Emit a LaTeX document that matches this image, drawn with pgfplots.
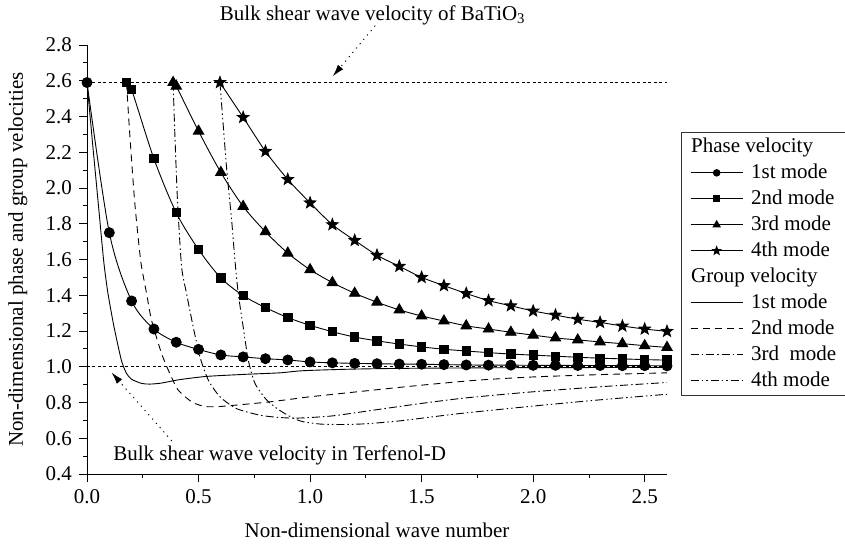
\documentclass[border=0pt]{standalone}
\usepackage{fontspec}
\setmainfont{Liberation Serif}
\usepackage{pgfplots}
\usepackage{pgfplotstable}
\pgfplotsset{compat=1.18}
\usetikzlibrary{arrows.meta}

\pgfdeclareplotmark{fstar}{%
 \pgfpathmoveto{\pgfpointpolar{90}{\pgfplotmarksize}}%
 \pgfpathlineto{\pgfpointpolar{126}{0.42\pgfplotmarksize}}%
 \pgfpathlineto{\pgfpointpolar{162}{\pgfplotmarksize}}%
 \pgfpathlineto{\pgfpointpolar{198}{0.42\pgfplotmarksize}}%
 \pgfpathlineto{\pgfpointpolar{234}{\pgfplotmarksize}}%
 \pgfpathlineto{\pgfpointpolar{270}{0.42\pgfplotmarksize}}%
 \pgfpathlineto{\pgfpointpolar{306}{\pgfplotmarksize}}%
 \pgfpathlineto{\pgfpointpolar{342}{0.42\pgfplotmarksize}}%
 \pgfpathlineto{\pgfpointpolar{18}{\pgfplotmarksize}}%
 \pgfpathlineto{\pgfpointpolar{54}{0.42\pgfplotmarksize}}%
 \pgfpathclose
 \pgfusepathqfillstroke
}

\pgfplotstableread{
x y
0 2.59
0.1 1.75
0.2 1.368
0.3 1.211
0.4 1.137
0.5 1.097
0.6 1.066
0.7 1.055
0.8 1.045
0.9 1.038
1.0 1.027
1.1 1.022
1.2 1.019
1.3 1.017
1.4 1.015
1.5 1.014
1.6 1.012
1.7 1.010
1.8 1.009
1.9 1.009
2.0 1.008
2.1 1.008
2.2 1.007
2.3 1.007
2.4 1.006
2.5 1.006
2.6 1.005
}\phaseone

\pgfplotstableread{
x y
0.177 2.59
0.2 2.55
0.3 2.164
0.4 1.862
0.5 1.656
0.6 1.497
0.7 1.398
0.8 1.331
0.9 1.275
1.0 1.232
1.1 1.196
1.2 1.166
1.3 1.145
1.4 1.127
1.5 1.111
1.6 1.098
1.7 1.088
1.8 1.079
1.9 1.071
2.0 1.065
2.1 1.059
2.2 1.053
2.3 1.048
2.4 1.044
2.5 1.040
2.6 1.037
}\phasetwo

\pgfplotstableread{
x y
0.386 2.59
0.4 2.57
0.5 2.318
0.6 2.087
0.7 1.897
0.8 1.755
0.9 1.636
1.0 1.543
1.1 1.471
1.2 1.411
1.3 1.361
1.4 1.318
1.5 1.284
1.6 1.256
1.7 1.229
1.8 1.211
1.9 1.193
2.0 1.177
2.1 1.161
2.2 1.150
2.3 1.139
2.4 1.129
2.5 1.118
2.6 1.108
}\phasethree

\pgfplotstableread{
x y
0.596 2.59
0.7 2.395
0.8 2.205
0.9 2.048
1.0 1.917
1.1 1.795
1.2 1.707
1.3 1.624
1.4 1.562
1.5 1.500
1.6 1.454
1.7 1.410
1.8 1.370
1.9 1.341
2.0 1.312
2.1 1.289
2.2 1.266
2.3 1.248
2.4 1.228
2.5 1.211
2.6 1.198
}\phasefour

\pgfplotstableread{
x y
0 2.59
0.025 2.25
0.05 1.92
0.075 1.59
0.094 1.41
0.121 1.224
0.154 1.037
0.177 0.963
0.2 0.930
0.244 0.907
0.28 0.903
0.33 0.908
0.416 0.928
0.536 0.946
0.716 0.958
0.865 0.966
0.97 0.978
1.2 0.987
1.5 0.992
2.0 0.995
2.6 0.996
}\groupone

\pgfplotstableread{
x y
0.177 2.59
0.192 2.296
0.214 1.92
0.241 1.59
0.267 1.411
0.289 1.262
0.334 1.075
0.371 0.963
0.409 0.869
0.469 0.804
0.521 0.779
0.56 0.776
0.6 0.778
0.7 0.789
0.8 0.801
0.9 0.816
1.0 0.832
1.25 0.865
1.5 0.897
1.75 0.925
2.0 0.943
2.3 0.956
2.6 0.966
}\grouptwo

\pgfplotstableread{
x y
0.386 2.59
0.394 2.296
0.406 1.92
0.424 1.56
0.446 1.411
0.476 1.224
0.506 1.056
0.544 0.925
0.596 0.832
0.67 0.766
0.775 0.729
0.865 0.716
0.95 0.713
1.1 0.725
1.3 0.760
1.5 0.795
1.7 0.826
2.0 0.860
2.3 0.888
2.6 0.912
}\groupthree

\pgfplotstableread{
x y
0.596 2.59
0.626 2.108
0.648 1.826
0.663 1.598
0.678 1.411
0.70 1.224
0.723 1.037
0.753 0.907
0.806 0.813
0.865 0.755
0.925 0.712
0.97 0.692
1.05 0.679
1.15 0.677
1.25 0.681
1.4 0.697
1.67 0.738
2.0 0.780
2.3 0.815
2.6 0.846
}\groupfour

\begin{document}
\fontsize{21bp}{25bp}\selectfont
\begin{tikzpicture}
\begin{axis}[
  scale only axis, width=580bp, height=429bp,
  at={(0,0)}, anchor=south west,
  xmin=0, xmax=2.6, ymin=0.4, ymax=2.8,
  axis x line*=bottom, axis y line*=left,
  axis line style={line width=0.8bp},
  xtick={0,0.5,1,1.5,2,2.5},
  ytick={0.4,0.6,0.8,1.0,1.2,1.4,1.6,1.8,2.0,2.2,2.4,2.6,2.8},
  minor x tick num=1, minor y tick num=1,
  tick align=outside,
  major tick length=8bp, minor tick length=4bp,
  every tick/.style={black, line width=0.8bp},
  /pgf/number format/assume math mode=true,
  xticklabel style={/pgf/number format/.cd, fixed, fixed zerofill, precision=1},
  yticklabel style={/pgf/number format/.cd, fixed, fixed zerofill, precision=1},
  xlabel={Non-dimensional wave number},
  ylabel={Non-dimensional phase and group velocities},
  xlabel style={at={(axis description cs:0.5,-0.1305)}, anchor=center},
  ylabel style={at={(axis description cs:-0.119,0.5)}, anchor=center},
  clip=false,
  legend cell align=left,
  legend image code/.code={\draw[mark repeat=2,mark phase=2,#1] plot coordinates {(0bp,0bp) (26bp,0bp) (52bp,0bp)};},
  legend style={at={(rel axis cs:1.024,0.798)}, anchor=north west,
     draw=black!80, line width=0.6bp, inner xsep=9bp, inner ysep=4bp, row sep=4.3bp,
     font=\fontsize{21bp}{25bp}\selectfont,
     /tikz/every odd column/.append style={column sep=6bp}},
]
% reference lines
\addplot[black, line width=0.8bp, dash pattern=on 3bp off 2.5bp, forget plot] coordinates {(0,2.59) (2.6,2.59)};
\addplot[black, line width=0.8bp, dash pattern=on 3bp off 2.5bp, forget plot] coordinates {(0,1.0) (2.6,1.0)};

% group velocities
\addplot[black, line width=0.9bp, smooth, tension=0.4, forget plot] table {\groupone};
\addplot[black, line width=0.9bp, smooth, tension=0.4, dash pattern=on 7bp off 5bp, forget plot] table {\grouptwo};
\addplot[black, line width=0.9bp, smooth, tension=0.4, dash pattern=on 8bp off 3bp on 1.5bp off 3bp, forget plot] table {\groupthree};
\addplot[black, line width=0.9bp, smooth, tension=0.4, dash pattern=on 8bp off 3bp on 1.5bp off 3bp on 1.5bp off 3bp, forget plot] table {\groupfour};

% phase velocities
\addplot[black, line width=0.9bp, smooth, mark=*, mark size=5bp, mark options={solid, fill=black}, forget plot] table {\phaseone};
\addplot[black, line width=0.9bp, smooth, mark=square*, mark size=4.2bp, mark options={solid, fill=black}, forget plot] table {\phasetwo};
\addplot[black, line width=0.9bp, smooth, mark=triangle*, mark size=6bp, mark options={solid, fill=black}, forget plot] table {\phasethree};
\addplot[black, line width=0.9bp, smooth, mark=fstar, mark size=6bp, mark options={solid, fill=black}, forget plot] table {\phasefour};

% legend
\addlegendimage{empty legend}
\addlegendentry{\kern-60bp Phase velocity}
\addlegendimage{black, line width=0.9bp, mark=*, mark size=3.3bp, mark options={fill=black}}
\addlegendentry{1st mode}
\addlegendimage{black, line width=0.9bp, mark=square*, mark size=3bp, mark options={fill=black}}
\addlegendentry{2nd mode}
\addlegendimage{black, line width=0.9bp, mark=triangle*, mark size=4bp, mark options={fill=black}}
\addlegendentry{3rd mode}
\addlegendimage{black, line width=0.9bp, mark=fstar, mark size=4.2bp, mark options={fill=black}}
\addlegendentry{4th mode}
\addlegendimage{empty legend}
\addlegendentry{\kern-60bp Group velocity}
\addlegendimage{black, line width=0.9bp}
\addlegendentry{1st mode}
\addlegendimage{black, line width=0.9bp, dash pattern=on 7bp off 5bp}
\addlegendentry{2nd mode}
\addlegendimage{black, line width=0.9bp, dash pattern=on 8bp off 3bp on 1.5bp off 3bp}
\addlegendentry{3rd~ mode}
\addlegendimage{black, line width=0.9bp, dash pattern=on 8bp off 3bp on 1.5bp off 3bp on 1.5bp off 3bp}
\addlegendentry{4th mode}

% annotations
\node[anchor=center] at (axis cs:1.28,2.968) {Bulk shear wave velocity of BaTiO\textsubscript{3}};
\node[anchor=west, inner sep=0pt] at (axis cs:0.117,0.506) {Bulk shear wave velocity in Terfenol-D};
\draw[line width=0.9bp, dash pattern=on 1.2bp off 4.5bp, -{Latex[length=12bp,width=7bp]}] (axis cs:1.292,2.908) -- (axis cs:1.102,2.625);
\draw[line width=0.9bp, dash pattern=on 1.2bp off 4.5bp, -{Latex[length=12bp,width=7bp]}] (axis cs:0.38,0.585) -- (axis cs:0.11,0.968);
\end{axis}
\pgfresetboundingbox
\useasboundingbox (-87bp,-70bp) rectangle (758bp,474bp);
\end{tikzpicture}
\end{document}
